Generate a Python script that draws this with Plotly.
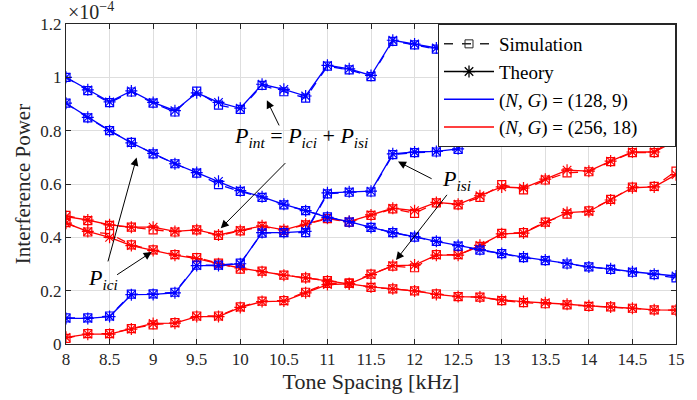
import plotly.graph_objects as go

# ---------------- data (units of 1e-4) ----------------
tone_spacing = [8, 8.25, 8.5, 8.75, 9, 9.25, 9.5, 9.75, 10, 10.25, 10.5, 10.75, 11, 11.25,
                11.5, 11.75, 12, 12.25, 12.5, 12.75, 13, 13.25, 13.5, 13.75, 14, 14.25,
                14.5, 14.75, 15]

# (N,G) = (128,9)
blue_int_theory = [1.000, 0.953, 0.908, 0.949, 0.906, 0.875, 0.942, 0.906, 0.884, 0.974, 0.955,
                   0.930, 1.045, 1.032, 1.007, 1.139, 1.125, 1.110, 1.101, 1.248, 1.234, 1.231,
                   1.335, 1.332, 1.329, 1.442, 1.441, 1.442, 1.551]
blue_int_sim = [1.000, 0.950, 0.905, 0.945, 0.903, 0.870, 0.948, 0.896, 0.880, 0.970, 0.946,
                0.922, 1.042, 1.028, 1.003, 1.135, 1.122, 1.106, 1.098, 1.245, 1.230, 1.228,
                1.330, 1.329, 1.325, 1.438, 1.437, 1.438, 1.547]
blue_ici_theory = [0.903, 0.850, 0.800, 0.754, 0.715, 0.676, 0.643, 0.610, 0.575, 0.552, 0.524,
                   0.500, 0.475, 0.459, 0.437, 0.418, 0.403, 0.385, 0.369, 0.354, 0.339, 0.326,
                   0.315, 0.302, 0.289, 0.282, 0.271, 0.262, 0.255]
blue_ici_sim = [0.903, 0.848, 0.800, 0.756, 0.713, 0.676, 0.641, 0.598, 0.572, 0.550, 0.522,
                0.500, 0.477, 0.457, 0.437, 0.418, 0.401, 0.385, 0.367, 0.352, 0.339, 0.324,
                0.313, 0.300, 0.289, 0.280, 0.269, 0.260, 0.248]
blue_isi_theory = [0.096, 0.096, 0.103, 0.185, 0.186, 0.192, 0.294, 0.294, 0.301, 0.418, 0.418,
                   0.422, 0.567, 0.571, 0.573, 0.713, 0.720, 0.722, 0.732, 0.894, 0.895, 0.905,
                   1.020, 1.030, 1.040, 1.160, 1.170, 1.180, 1.300]
blue_isi_sim = [0.098, 0.098, 0.105, 0.187, 0.188, 0.194, 0.296, 0.296, 0.303, 0.416, 0.418,
                0.418, 0.563, 0.569, 0.570, 0.710, 0.718, 0.720, 0.730, 0.892, 0.893, 0.903,
                1.018, 1.028, 1.038, 1.158, 1.168, 1.178, 1.298]

# (N,G) = (256,18)
red_int_theory = [0.478, 0.465, 0.447, 0.438, 0.438, 0.422, 0.428, 0.409, 0.426, 0.443, 0.428,
                  0.449, 0.472, 0.459, 0.484, 0.509, 0.500, 0.531, 0.524, 0.556, 0.589, 0.585,
                  0.618, 0.652, 0.648, 0.686, 0.720, 0.720, 0.763]
red_int_sim = [0.482, 0.463, 0.445, 0.438, 0.428, 0.420, 0.428, 0.407, 0.424, 0.441, 0.426,
               0.447, 0.470, 0.457, 0.482, 0.507, 0.490, 0.529, 0.522, 0.550, 0.598, 0.578,
               0.615, 0.642, 0.646, 0.684, 0.718, 0.718, 0.779]
red_ici_theory = [0.453, 0.422, 0.400, 0.369, 0.351, 0.333, 0.320, 0.301, 0.285, 0.271, 0.258,
                  0.248, 0.236, 0.226, 0.214, 0.207, 0.199, 0.186, 0.178, 0.176, 0.165, 0.159,
                  0.155, 0.149, 0.143, 0.139, 0.134, 0.128, 0.127]
red_ici_sim = [0.455, 0.420, 0.414, 0.372, 0.353, 0.335, 0.324, 0.303, 0.281, 0.273, 0.258,
               0.248, 0.238, 0.228, 0.212, 0.207, 0.199, 0.188, 0.178, 0.176, 0.163, 0.155,
               0.151, 0.147, 0.141, 0.139, 0.134, 0.128, 0.127]
red_isi_theory = [0.025, 0.037, 0.037, 0.056, 0.077, 0.078, 0.103, 0.103, 0.137, 0.159, 0.161,
                  0.192, 0.223, 0.226, 0.260, 0.294, 0.296, 0.333, 0.333, 0.370, 0.413, 0.416,
                  0.455, 0.493, 0.497, 0.540, 0.586, 0.589, 0.635]
red_isi_sim = [0.021, 0.039, 0.039, 0.058, 0.072, 0.080, 0.105, 0.105, 0.139, 0.161, 0.163,
               0.194, 0.227, 0.228, 0.262, 0.292, 0.286, 0.335, 0.335, 0.366, 0.415, 0.418,
               0.457, 0.487, 0.499, 0.542, 0.588, 0.591, 0.648]

x_ticks = [8, 8.5, 9, 9.5, 10, 10.5, 11, 11.5, 12, 12.5, 13, 13.5, 14, 14.5, 15]
x_tick_labels = ["8", "8.5", "9", "9.5", "10", "10.5", "11", "11.5", "12", "12.5", "13",
                 "13.5", "14", "14.5", "15"]
y_ticks = [0, 0.2, 0.4, 0.6, 0.8, 1.0, 1.2]
y_tick_labels = ["0", "0.2", "0.4", "0.6", "0.8", "1", "1.2"]

legend_names = ["Simulation", "Theory",
                "(<i>N</i>, <i>G</i>) = (128, 9)",
                "(<i>N</i>, <i>G</i>) = (256, 18)\u2003\u2002\u2009"]

BLUE = "rgb(0,0,255)"
RED = "rgb(255,0,0)"
FONT = "Liberation Serif"

fig = go.Figure()

def add_pair(sim, th, color):
    fig.add_trace(go.Scatter(x=tone_spacing, y=sim, mode="lines+markers", showlegend=False,
                             line=dict(color=color, width=1.3, dash="dash"),
                             marker=dict(symbol="square-open", size=8, color=color,
                                         line=dict(width=1.2, color=color))))
    fig.add_trace(go.Scatter(x=tone_spacing, y=th, mode="lines+markers", showlegend=False,
                             line=dict(color=color, width=1.3),
                             marker=dict(symbol="asterisk-open", size=10, color=color,
                                         line=dict(width=1.2, color=color))))

for sim, th in [(red_int_sim, red_int_theory), (red_ici_sim, red_ici_theory),
                (red_isi_sim, red_isi_theory)]:
    add_pair(sim, th, RED)
for sim, th in [(blue_int_sim, blue_int_theory), (blue_ici_sim, blue_ici_theory),
                (blue_isi_sim, blue_isi_theory)]:
    add_pair(sim, th, BLUE)

# legend entries
fig.add_trace(go.Scatter(x=[None], y=[None], mode="lines+markers", name=legend_names[0],
                         line=dict(color="#262626", width=1.5, dash="dash"),
                         marker=dict(symbol="square-open", size=8, color="#262626")))
fig.add_trace(go.Scatter(x=[None], y=[None], mode="lines+markers", name=legend_names[1],
                         line=dict(color="black", width=1.5),
                         marker=dict(symbol="asterisk-open", size=10, color="black",
                                     line=dict(width=1.3, color="black"))))
fig.add_trace(go.Scatter(x=[None], y=[None], mode="lines", name=legend_names[2],
                         line=dict(color=BLUE, width=1.5)))
fig.add_trace(go.Scatter(x=[None], y=[None], mode="lines", name=legend_names[3],
                         line=dict(color=RED, width=1.5)))

# annotations: arrows (tip x,y ; tail ax,ay) in data coordinates
arrows = [
    (10.305, 0.914, 10.454, 0.814),
    (9.776, 0.434, 10.534, 0.684),
    (8.810, 0.699, 8.477, 0.304),
    (8.983, 0.345, 8.569, 0.256),
    (11.810, 0.684, 12.213, 0.617),
    (11.787, 0.315, 12.385, 0.565),
]
for (x0, y0, x1, y1) in arrows:
    fig.add_annotation(x=x0, y=y0, ax=x1, ay=y1, xref="x", yref="y", axref="x", ayref="y",
                       text="", showarrow=True, arrowhead=2, arrowsize=1.6, arrowwidth=1,
                       arrowcolor="black", standoff=0, startstandoff=0)

labels = [
    (10.695, 0.776, "<i>P</i><sub><i>int</i></sub> = <i>P</i><sub><i>ici</i></sub> + <i>P</i><sub><i>isi</i></sub>"),
    (8.42, 0.245, "<i>P</i><sub><i>ici</i></sub>"),
    (12.477, 0.615, "<i>P</i><sub><i>isi</i></sub>"),
]
for (xx, yy, t) in labels:
    fig.add_annotation(x=xx, y=yy, xref="x", yref="y", text=t, showarrow=False,
                       font=dict(family=FONT, size=22, color="black"),
                       xanchor="center", yanchor="middle")

fig.add_annotation(x=0.0, y=1.0, xref="paper", yref="paper", text="×10<sup>−4</sup>",
                   showarrow=False, xanchor="left", yanchor="bottom", yshift=-1,
                   font=dict(family=FONT, size=20, color="#262626"))

axis_common = dict(showgrid=True, gridcolor="#dedede", gridwidth=1, zeroline=False,
                   showline=True, linecolor="#262626", linewidth=1, mirror="ticks",
                   ticks="inside", ticklen=5, tickcolor="#262626",
                   tickfont=dict(family=FONT, size=17, color="#262626"))

fig.update_layout(
    width=697, height=400,
    margin=dict(l=66, r=21, t=24, b=53),
    paper_bgcolor="white", plot_bgcolor="white",
    font=dict(family=FONT, color="#262626"),
    xaxis=dict(range=[8, 15], tickvals=x_ticks, ticktext=x_tick_labels,
               title=dict(text="Tone Spacing [kHz]", font=dict(family=FONT, size=22, color="#262626"),
                          standoff=3),
               **axis_common),
    yaxis=dict(range=[0, 1.2], tickvals=y_ticks, ticktext=y_tick_labels,
               title=dict(text="Interference Power", font=dict(family=FONT, size=21, color="#262626"),
                          standoff=3),
               **axis_common),
    legend=dict(x=1, y=1, xanchor="right", yanchor="top", bgcolor="white",
                bordercolor="#262626", borderwidth=1, itemwidth=50,
                font=dict(family=FONT, size=19, color="black"), tracegroupgap=0,
                itemsizing="trace"),
    showlegend=True,
)

fig.write_html("out.html")
